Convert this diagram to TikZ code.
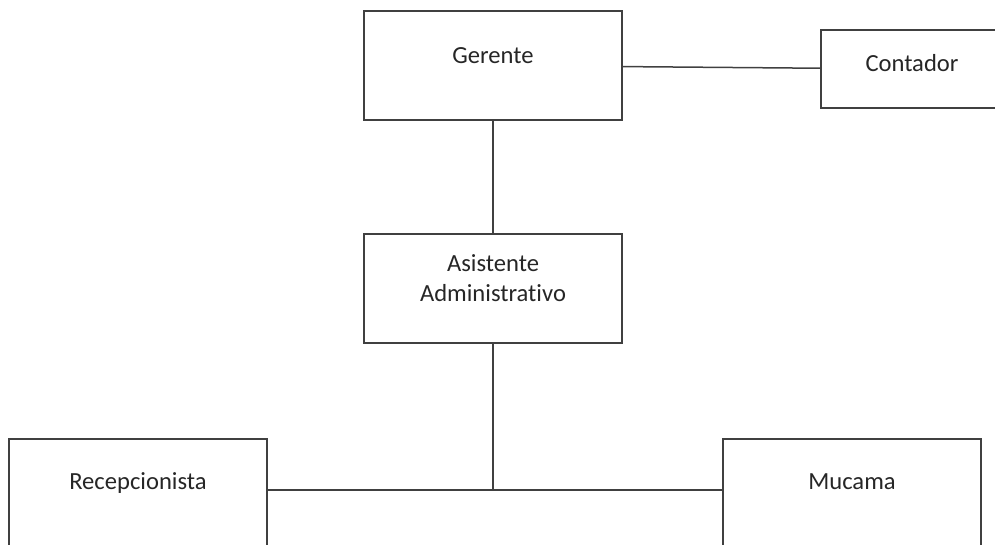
\documentclass[tikz,border=0pt]{standalone}
\usepackage{fontspec}
\setmainfont{Carlito}[Ligatures=NoCommon]
\begin{document}
\begin{tikzpicture}[x=1pt, y=-1pt, puesto/.style={rectangle, draw=black!75, line width=1.5pt, minimum width=258pt, minimum height=109pt, inner sep=0pt, text height=12pt, text depth=15pt, font=\fontsize{24.6}{30}\selectfont, text=black!85}, conn/.style={draw=black!75, line width=1.5pt}]

\useasboundingbox (0,0) rectangle (995,545);
\clip (0,0) rectangle (995,545);

\node[puesto](ger) at (493,65.5) {Gerente};
\node[puesto, minimum width=182pt, minimum height=78pt, text depth=6pt](cont) at (912,69) {Contador};
\node[puesto, align=center, text height=42pt, text depth=17pt](asist) at (493,288.5) {Asistente\\Administrativo};
\node[puesto, minimum height=122pt, text depth=34pt](recep) at (138,500) {Recepcionista};
\node[puesto, minimum height=122pt, text depth=34pt](muc) at (852,500) {Mucama};
\coordinate (union) at (493,490);

\draw[conn] (ger) -- (cont);
\draw[conn] (ger) -- (asist);
\draw[conn] (recep.east |- union) -- (muc.west |- union);
\draw[conn] (asist) -- (union);

\end{tikzpicture}
\end{document}
